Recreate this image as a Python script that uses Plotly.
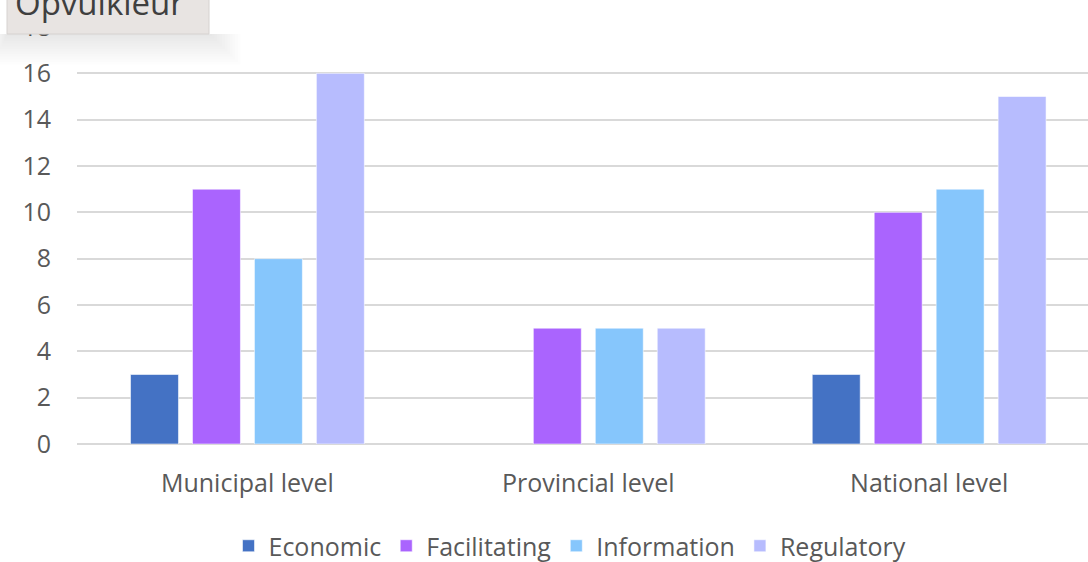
import plotly.graph_objects as go

# Number of measures per government level, by instrument type
levels = ["Municipal level", "Provincial level", "National level"]
economic = [3, None, 3]
facilitating = [11, 5, 10]
information = [8, 5, 11]
regulatory = [16, 5, 15]

series = [
    ("Economic", economic, "#4472C4"),
    ("Facilitating", facilitating, "#AA64FE"),
    ("Information", information, "#86C6FC"),
    ("Regulatory", regulatory, "#B7BCFE"),
]

W, H = 1088, 562
L, R, T, B = 77, 0, 27, 118
TEXT = "#595959"
FONT = "Open Sans"

fig = go.Figure()
for name, vals, color in series:
    fig.add_trace(go.Bar(
        name=name, x=levels, y=vals,
        marker=dict(color=color, line=dict(color="rgba(255,255,255,0.55)", width=1)),
    ))

# pixel -> paper helpers for the overlay box
pw, ph = W - L - R, H - T - B
def px(x):
    return (x - L) / pw
def py(y):
    return (H - B - y) / ph

shapes = []
# soft drop shadow under the floating label box
for i in range(12):
    shapes.append(dict(
        type="rect", xref="paper", yref="paper", layer="above",
        x0=px(6 - 1.2 * i), x1=px(212 + 2.6 * i), y0=py(34), y1=py(36 + 2.6 * i),
        fillcolor="rgba(0,0,0,0.008)", line=dict(width=0),
    ))
shapes.append(dict(
    type="rect", xref="paper", yref="paper", layer="above",
    x0=px(7), x1=px(209), y0=py(34), y1=py(-20),
    fillcolor="#E8E4E2", line=dict(color="#D6D2D0", width=1),
))

fig.update_layout(
    width=W, height=H,
    margin=dict(l=L, r=R, t=T, b=B, pad=0),
    paper_bgcolor="white", plot_bgcolor="white",
    barmode="group", bargap=0.273, bargroupgap=0.226,
    font=dict(family=FONT, size=25, color=TEXT),
    xaxis=dict(
        type="category", range=[-0.5, 2.466], showgrid=False, showline=False,
        ticks="", ticklabelstandoff=22, tickfont=dict(size=25, color=TEXT),
        fixedrange=True,
    ),
    yaxis=dict(
        range=[0, 18], dtick=2, tick0=0, showgrid=True, gridcolor="#D9D9D9",
        gridwidth=2, zeroline=True, zerolinecolor="#D9D9D9", zerolinewidth=2,
        showline=False, ticks="", ticklabelstandoff=25,
        tickfont=dict(size=25, color=TEXT), fixedrange=True,
    ),
    legend=dict(
        orientation="h", xref="container", yref="container",
        x=570 / W, xanchor="center", y=1 - 546 / H, yanchor="middle",
        font=dict(size=25, color=TEXT), traceorder="normal",
    ),
    shapes=shapes,
    annotations=[dict(
        text="Opvulkleur", xref="paper", yref="paper", x=px(13), y=py(27),
        xanchor="left", yanchor="bottom", showarrow=False,
        font=dict(family=FONT, size=33, color="#3F3F3F"),
    )],
    showlegend=True,
)

fig.write_html("out.html")
